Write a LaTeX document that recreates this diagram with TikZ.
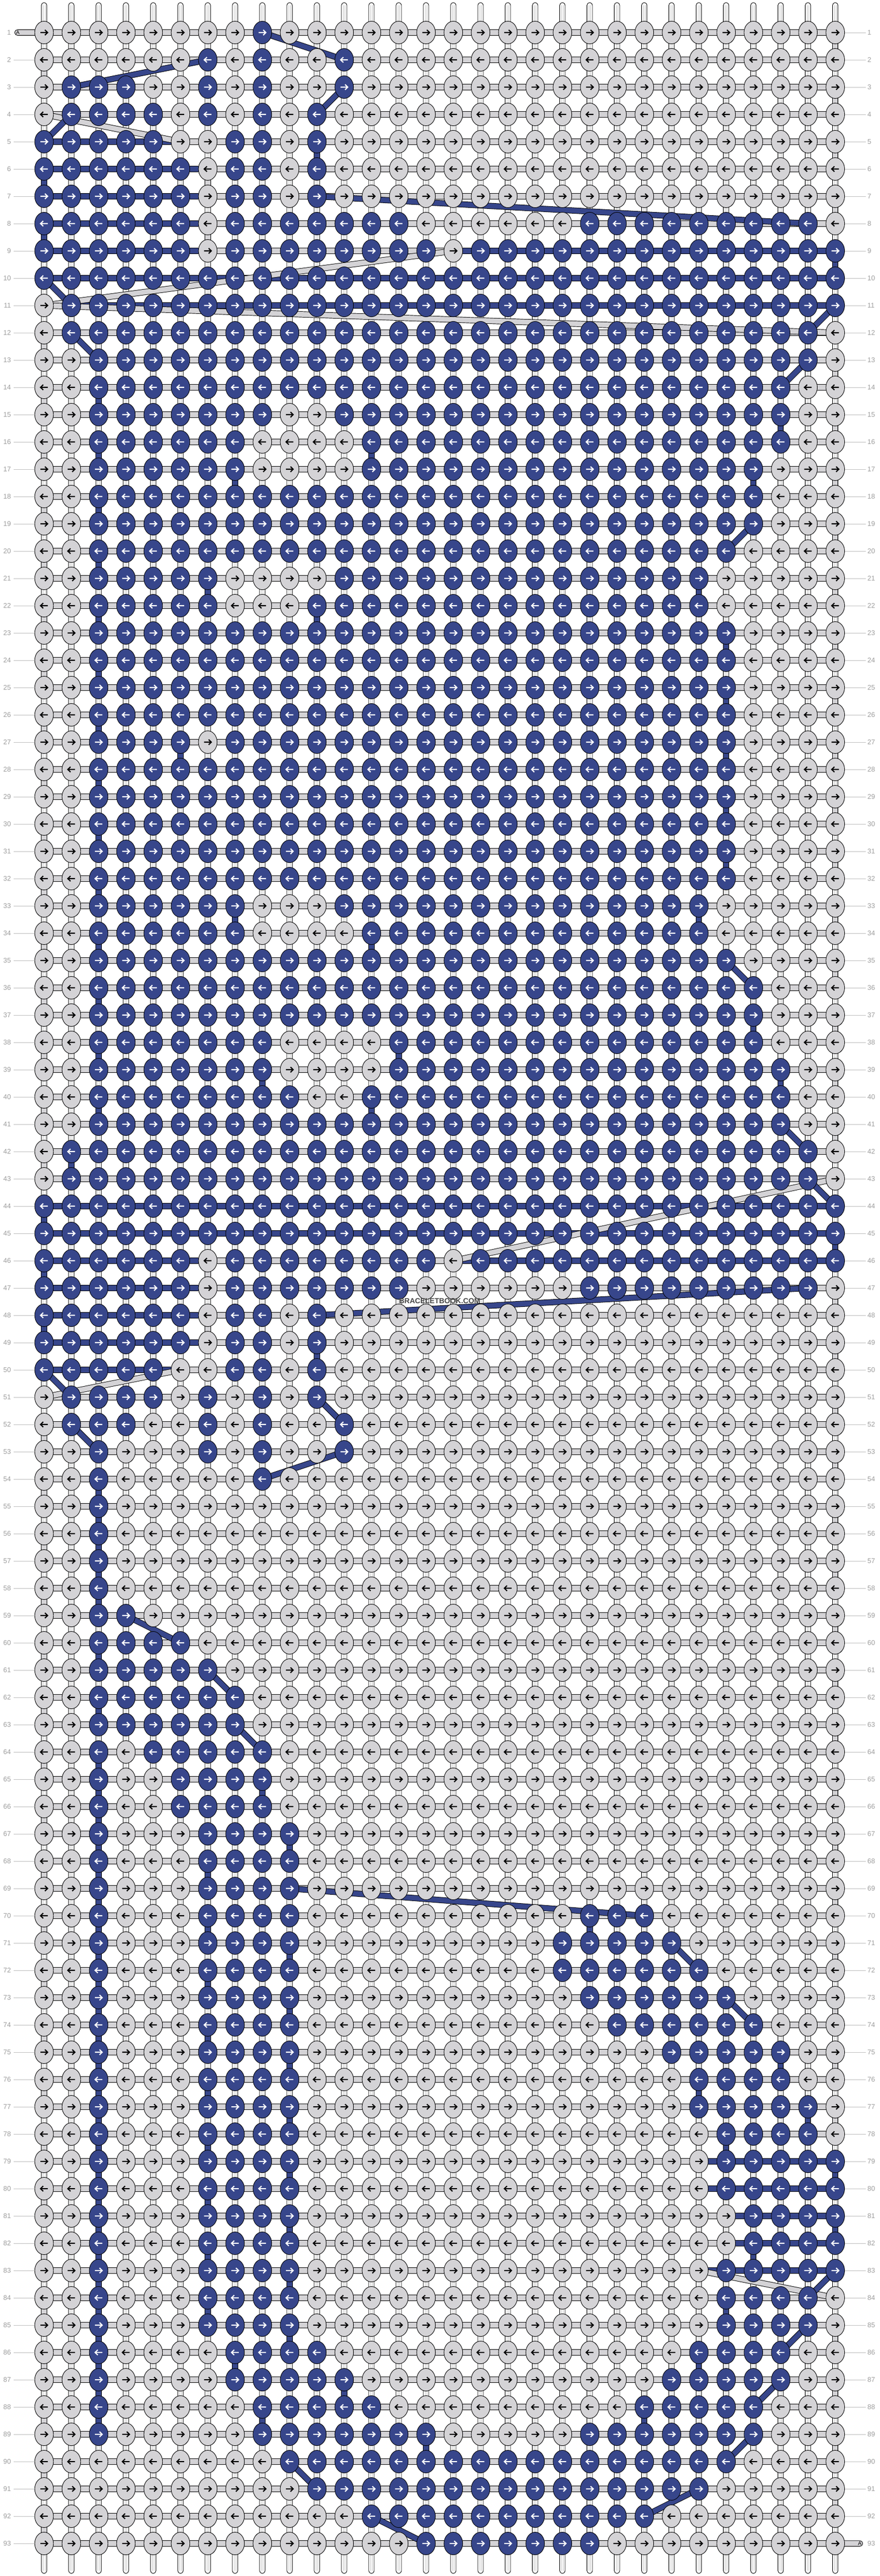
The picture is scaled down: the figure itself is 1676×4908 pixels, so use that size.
\documentclass[tikz,border=0pt]{standalone}
\usepackage{fontspec}
\setmainfont{Liberation Sans}
\definecolor{navy}{HTML}{37468B}
\definecolor{kgray}{HTML}{D4D3D6}
\definecolor{labc}{HTML}{9E9E9E}
\definecolor{linec}{HTML}{BDBDBD}
\definecolor{thinc}{HTML}{C8C8C8}
\tikzset{
  hbar/.style={fill=kgray, draw=black, line width=0.9pt},
  hbarn/.style={fill=navy, draw=black, line width=0.9pt},
  vthread/.style={fill=white, draw=black, line width=0.9pt},
  vinner/.style={draw=thinc, line width=0.6pt},
  diagout/.style={draw=black, line width=11.5pt},
  diagn/.style={draw=navy, line width=9.6pt},
  diagg/.style={draw=kgray, line width=9.6pt},
  rowlab/.style={text=labc, font=\fontsize{13}{13}\selectfont, inner sep=0pt},
  labline/.style={draw=linec, line width=0.9pt},
}
\def\rowdata{%
{9/9},{7/7,9/9,12/12},{2/4,7/7,9/9,12/12},{2/5,7/7,9/9,11/11},{1/5,8/9,11/11},%
{1/6,8/9,11/11},{1/6,8/9,11/11},{1/6,8/14,21/29},{1/6,8/15,17/30},{1/30},%
{2/30},{2/29},{3/29},{3/28},{3/9,12/28},%
{3/8,13/28},{3/8,13/27},{3/27},{3/27},{3/26},%
{3/7,12/25},{3/7,11/25},{3/26},{3/26},{3/26},%
{3/26},{3/6,8/26},{3/26},{3/26},{3/26},%
{3/26},{3/26},{3/8,12/25},{3/8,13/25},{3/26},%
{3/27},{3/27},{3/9,14/27},{3/9,14/28},{3/10,13/28},%
{3/28},{2/29},{2/29},{1/30},{1/30},%
{1/6,8/15,17/30},{1/6,8/14,21/29},{1/6,8/9,11/11},{1/6,8/9,11/11},{1/5,8/9,11/11},%
{2/5,7/7,9/9,11/11},{2/4,7/7,9/9,12/12},{3/3,7/7,9/9,12/12},{3/3,9/9},{3/3},%
{3/3},{3/3},{3/3},{3/4},{3/6},%
{3/7},{3/8},{3/8},{3/3,5/9},{3/3,6/9},%
{3/3,6/9},{3/3,7/10},{3/3,7/10},{3/3,7/10},{3/3,7/10,21/23},%
{3/3,7/10,20/24},{3/3,7/10,20/25},{3/3,7/10,21/26},{3/3,7/10,22/27},{3/3,7/10,24/28},%
{3/3,7/10,25/28},{3/3,7/10,25/29},{3/3,7/10,26/29},{3/3,7/10,26/30},{3/3,7/10,26/30},%
{3/3,7/10,27/30},{3/3,7/10,27/30},{3/3,7/10,26/30},{3/3,7/10,26/29},{3/3,7/10,26/29},%
{3/3,8/11,25/28},{3/3,8/12,24/28},{3/3,9/13,23/27},{3/3,9/15,21/27},{10/26},%
{11/25},{13/23},{15/21}}
\def\hnavy{5/1/5,6/1/6,7/1/6,8/1/6,9/1/6,9/16/29,10/1/29,11/2/29,44/1/29,45/1/29,46/1/6,46/16/29,47/1/6,48/1/6,49/1/6,50/1/5,79/25/29,80/25/29,81/26/29,82/26/29,83/25/29}
\def\ndiag{1/9/2/12,2/7/3/2,3/12/4/11,4/2/5/1,7/11/8/29,10/1/11/2,11/30/12/29,12/2/13/3,13/29/14/28,19/27/20/26,35/26/36/27,41/28/42/29,43/29/44/30,47/29/48/11,50/1/51/2,51/11/52/12,52/2/53/3,53/12/54/9,59/4/60/6,61/7/62/8,63/8/64/9,69/10/70/23,71/24/72/25,73/26/74/27,83/30/84/29,85/29/86/28,87/28/88/27,89/27/90/26,90/10/91/11,91/25/92/23,92/13/93/15}
\def\gdiag{4/1/5/6,9/16/11/1,11/1/12/30,43/30/46/16,50/6/51/1,83/25/84/30}
% explicit vertical links (row/col: between row and row+1) for the upper and middle bands
\def\vnavy{5/11,6/1,8/1,9/30,44/1,45/30,46/1,48/1,49/11}
\def\vgray{6/7,8/7,46/7,48/7}
\newsavebox\kgR \newsavebox\kgL \newsavebox\knR \newsavebox\knL
% knot box: #1 fill, #2 arrow colour, #3 direction (+1 right, -1 left)
\newcommand\makeknot[3]{%
  \begin{pgfpicture}%
    \pgfpathrectangle{\pgfpoint{-20pt}{-24pt}}{\pgfpoint{40pt}{48pt}}\pgfusepath{use as bounding box}%
    \pgfsetlinewidth{0.9pt}\pgfsetfillcolor{#1}\pgfsetstrokecolor{black}%
    \pgfpathellipse{\pgfpointorigin}{\pgfpoint{17.8pt}{0pt}}{\pgfpoint{0pt}{21.6pt}}\pgfusepath{fill,stroke}%
    \pgfsetlinewidth{2.1pt}\pgfsetbuttcap\pgfsetmiterjoin\pgfsetstrokecolor{#2}%
    \pgfpathmoveto{\pgfpoint{#3*-7pt}{0pt}}\pgfpathlineto{\pgfpoint{#3*6.8pt}{0pt}}%
    \pgfpathmoveto{\pgfpoint{#3*1.6pt}{5pt}}\pgfpathlineto{\pgfpoint{#3*6.8pt}{0pt}}\pgfpathlineto{\pgfpoint{#3*1.6pt}{-5pt}}%
    \pgfusepath{stroke}%
  \end{pgfpicture}}
\begin{document}
\sbox\kgR{\makeknot{kgray}{black}{1}}%
\sbox\kgL{\makeknot{kgray}{black}{-1}}%
\sbox\knR{\makeknot{navy}{white}{1}}%
\sbox\knL{\makeknot{navy}{white}{-1}}%
\begin{tikzpicture}[x=1pt,y=-1pt]
\useasboundingbox (0,0) rectangle (1676,4908);
\fill[white] (0,0) rectangle (1676,4908);
% lookup tables
\foreach \runs [count=\rw] in \rowdata {\foreach \ra/\rb in \runs {\foreach \c in {\ra,...,\rb} {\expandafter\gdef\csname K\rw-\c\endcsname{}}}}
\foreach \ra/\ca/\rb/\cb in \ndiag {\expandafter\gdef\csname D\ra-\ca\endcsname{}}
% vertical threads
\foreach \c in {1,...,30} {
  \pgfmathsetmacro\X{84+(\c-1)*51.99}
  \path[vthread, rounded corners=5pt] (\X-5.15,5) rectangle (\X+5.15,4903);
  \draw[vinner] (\X-1.8,10) -- (\X-1.8,4898) (\X+1.8,10) -- (\X+1.8,4898);
}
% horizontal threads
\foreach \rw in {1,...,93} {
  \pgfmathsetmacro\Y{62+(\rw-1)*52}
  \path[hbar] (84,\Y-5.35) rectangle (1591.7,\Y+5.35);
}
\path[hbar, rounded corners=5.3pt] (28,56.65) rectangle (95,67.35);
\path[hbar, rounded corners=5.3pt] (1580,4840.65) rectangle (1644,4851.35);
\node[font=\fontsize{10}{10}\selectfont, inner sep=0pt] (tailA) at (34,62) {A};
\node[font=\fontsize{10}{10}\selectfont, inner sep=0pt] (tailB) at (1638.5,4846) {A};
% navy horizontal segments
\foreach \rw/\sa/\sb in \hnavy {
  \pgfmathsetmacro\Y{62+(\rw-1)*52}
  \foreach \s in {\sa,...,\sb} {
    \pgfmathsetmacro\X{84+(\s-1)*51.99}
    \path[hbarn] (\X+10,\Y-5.35) rectangle (\X+41.99,\Y+5.35);
  }
}
% vertical turns of the navy thread (rule-based rows)
\foreach \runs [count=\rw] in \rowdata {
  \ifnum\rw<93
    \pgfmathtruncatemacro\rn{\rw+1}
    \pgfmathsetmacro\Y{62+(\rw-1)*52}
    \pgfmathtruncatemacro\skiprow{(\rw<10)||((\rw>43)&&(\rw<54))}
    \ifnum\skiprow=0
    \foreach \ra/\rb in \runs {
      \ifodd\rw\relax \edef\cc{\rb}\else \edef\cc{\ra}\fi
      \ifcsname K\rn-\cc\endcsname
        \ifcsname D\rw-\cc\endcsname\else
          \pgfmathsetmacro\X{84+(\cc-1)*51.99}
          \path[hbarn] (\X-5.15,\Y+12) rectangle (\X+5.15,\Y+40);
        \fi
      \fi
    }
    \fi
    \ifodd\rw\relax
      \ifcsname K\rw-30\endcsname\else\ifcsname K\rn-30\endcsname\else
        \path[hbar] (1586.55,\Y+12) rectangle (1596.85,\Y+40);
      \fi\fi
    \else
      \ifcsname K\rw-1\endcsname\else\ifcsname K\rn-1\endcsname\else
        \path[hbar] (78.85,\Y+12) rectangle (89.15,\Y+40);
      \fi\fi
    \fi
  \fi
}
% explicit vertical links
\foreach \rw/\cc in \vnavy {
  \pgfmathsetmacro\Y{62+(\rw-1)*52}
  \pgfmathsetmacro\X{84+(\cc-1)*51.99}
  \path[hbarn] (\X-5.15,\Y+12) rectangle (\X+5.15,\Y+40);
}
\foreach \rw/\cc in \vgray {
  \pgfmathsetmacro\Y{62+(\rw-1)*52}
  \pgfmathsetmacro\X{84+(\cc-1)*51.99}
  \path[hbar] (\X-5.15,\Y+12) rectangle (\X+5.15,\Y+40);
}
% diagonal threads between named knot points
\foreach \ra/\ca/\rb/\cb in \gdiag {
  \coordinate (k-\ra-\ca) at ({84+(\ca-1)*51.99},{62+(\ra-1)*52});
  \coordinate (k-\rb-\cb) at ({84+(\cb-1)*51.99},{62+(\rb-1)*52});
  \draw[diagout] (k-\ra-\ca) -- (k-\rb-\cb);
  \draw[diagg] (k-\ra-\ca) -- (k-\rb-\cb);
}
\foreach \ra/\ca/\rb/\cb in \ndiag {
  \coordinate (k-\ra-\ca) at ({84+(\ca-1)*51.99},{62+(\ra-1)*52});
  \coordinate (k-\rb-\cb) at ({84+(\cb-1)*51.99},{62+(\rb-1)*52});
  \draw[diagout] (k-\ra-\ca) -- (k-\rb-\cb);
  \draw[diagn] (k-\ra-\ca) -- (k-\rb-\cb);
}
% row labels
\foreach \rw in {1,...,93} {
  \pgfmathsetmacro\Y{62+(\rw-1)*52}
  \node[rowlab, anchor=east] (ll-\rw) at (21,\Y) {\rw};
  \node[rowlab, anchor=west] (lr-\rw) at (1653,\Y) {\rw};
  \ifnum\rw>1 \draw[labline] (26,\Y) -- (84,\Y); \fi
  \ifnum\rw<93 \draw[labline] (1591.7,\Y) -- (1650,\Y); \fi
}
% knots
\foreach \rw in {1,...,93} {
  \pgfmathsetmacro\Y{62+(\rw-1)*52}
  \foreach \c in {1,...,30} {
    \pgfmathsetmacro\X{84+(\c-1)*51.99}
    \ifcsname K\rw-\c\endcsname
      \ifodd\rw\relax \pgftext[at={\pgfpointxy{\X}{\Y}}]{\usebox\knR}\else \pgftext[at={\pgfpointxy{\X}{\Y}}]{\usebox\knL}\fi
    \else
      \ifodd\rw\relax \pgftext[at={\pgfpointxy{\X}{\Y}}]{\usebox\kgR}\else \pgftext[at={\pgfpointxy{\X}{\Y}}]{\usebox\kgL}\fi
    \fi
  }
}
% watermark
\node[font=\bfseries\fontsize{14}{14}\selectfont, text=black!72, inner sep=0pt] (wm) at (838,2479) {BRACELETBOOK.COM};
\end{tikzpicture}
\end{document}
